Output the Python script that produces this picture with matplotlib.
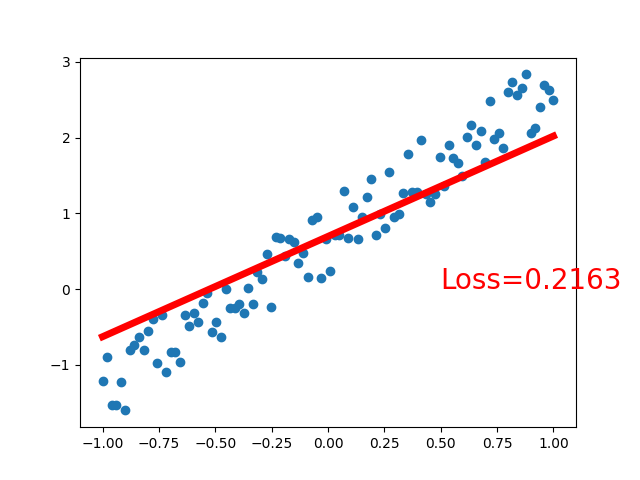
import matplotlib
matplotlib.use("Agg")
import matplotlib.pyplot as plt
import numpy as np

# x values: 100 evenly spaced points
x = np.linspace(-1, 1, 100)

# noisy targets
y = [-1.219, -0.901, -1.536, -1.536, -1.232, -1.603, -0.808, -0.742, -0.636, -0.808,
     -0.556, -0.397, -0.980, -0.344, -1.099, -0.834, -0.834, -0.967, -0.344, -0.490,
     -0.318, -0.437, -0.185, -0.053, -0.570, -0.437, -0.636, 0.000, -0.252, -0.252,
     -0.199, -0.318, 0.013, -0.199, 0.225, 0.132, 0.464, -0.238, 0.689, 0.675,
     0.437, 0.662, 0.623, 0.344, 0.477, 0.159, 0.914, 0.954, 0.146, 0.662,
     0.238, 0.715, 0.715, 1.298, 0.675, 1.086, 0.662, 0.954, 1.219, 1.457,
     0.715, 0.993, 0.808, 1.550, 0.954, 0.993, 1.272, 1.788, 1.285, 1.285,
     1.974, 1.258, 1.152, 1.258, 1.748, 1.364, 1.907, 1.735, 1.669, 1.497,
     2.013, 2.172, 1.907, 2.093, 1.682, 2.477, 1.987, 2.066, 1.868, 2.596,
     2.728, 2.556, 2.649, 2.834, 2.066, 2.132, 2.397, 2.689, 2.623, 2.490]

# fitted linear model
weight = 1.325
bias = 0.695
loss = 0.2163

prediction = weight * x + bias

plt.scatter(x, y)
plt.plot(x, prediction, 'r-', lw=5)
plt.text(0.5, 0, 'Loss=%.4f' % loss, fontdict={'size': 20, 'color': 'red'})

plt.savefig('out.png')
